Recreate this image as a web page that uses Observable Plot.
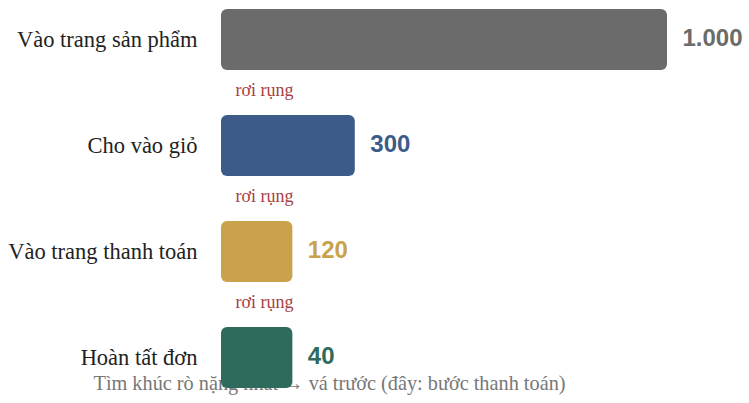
<!DOCTYPE html>
<html>
<head>
<meta charset="utf-8">
<script src="https://cdn.jsdelivr.net/npm/d3@7"></script>
<script src="https://cdn.jsdelivr.net/npm/@observablehq/plot@0.6"></script>
<style>
  html, body { margin: 0; padding: 0; background: #fff; }
  #chart svg { display: block; }
</style>
</head>
<body>
<div id="chart"></div>
<script>
const steps = ["Vào trang sản phẩm", "Cho vào giỏ", "Vào trang thanh toán", "Hoàn tất đơn"];
const counts = [1000, 300, 120, 40];
const valueLabels = ["1.000", "300", "120", "40"];
const colors = ["#6b6b6b", "#3c5b89", "#c9a24b", "#2e6b5d"];
const dropLabel = "rơi rụng";
const caption = "Tìm khúc rò nặng nhất → vá trước (đây: bước thanh toán)";

const minShown = 160; // minimum visible bar length (value units)
const rows = steps.map((s, i) => ({step: s, value: counts[i], label: valueLabels[i], color: colors[i], shown: Math.max(counts[i], minShown)}));
const drops = rows.slice(0, -1);

const serif = "'Liberation Serif', 'Times New Roman', serif";
const sans = "'Liberation Sans', Arial, sans-serif";

const chart = Plot.plot({
  width: 749,
  height: 403,
  marginLeft: 221,
  marginRight: 82,
  marginTop: 8,
  marginBottom: 14,
  x: {domain: [0, 1000], axis: null},
  y: {domain: steps, axis: null, paddingInner: 0.428, paddingOuter: 0},
  marks: [
    Plot.text([caption], {
      text: d => d, frameAnchor: "bottom-left", textAnchor: "start",
      dx: -128, fontSize: 20.3, fill: "#777", fontFamily: serif
    }),
    Plot.barX(rows, {y: "step", x1: 0, x2: "shown", fill: "color", rx: 6}),
    Plot.text(rows, {
      y: "step", x: 0, text: "step", textAnchor: "end", dx: -24, dy: 0,
      fontSize: 22.5, fill: "#222", fontFamily: serif
    }),
    Plot.text(rows, {
      y: "step", x: "shown", text: "label", textAnchor: "start", dx: 15, dy: -1.5,
      fontSize: 24, fontWeight: "bold", fill: "color", fontFamily: sans
    }),
    Plot.text(drops, {
      y: "step", x: 0, text: () => dropLabel, textAnchor: "start", dx: 14, dy: 50.5,
      fontSize: 18, fill: "#a8403f", fontFamily: serif
    })
  ]
});
document.getElementById("chart").append(chart);
</script>
</body>
</html>
